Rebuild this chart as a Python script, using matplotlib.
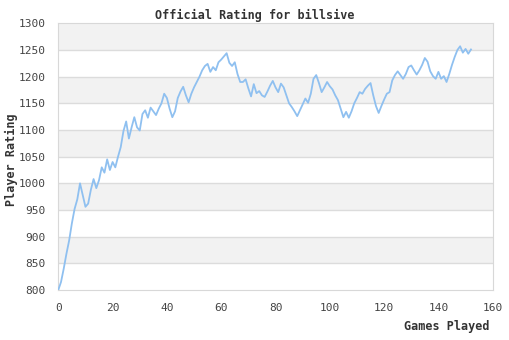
import numpy as np
import matplotlib
matplotlib.use("Agg")
import matplotlib.pyplot as plt

# Рейтинг по сыгранным партиям
rating = [
    800, 815, 840, 868, 893, 925, 952, 970, 1000, 978,
    956, 962, 988, 1008, 991, 1006, 1030, 1020, 1045, 1025,
    1040, 1030, 1050, 1068, 1098, 1116, 1084, 1105, 1124, 1105,
    1099, 1130, 1137, 1123, 1142, 1135, 1128, 1140, 1150, 1168,
    1160, 1140, 1124, 1135, 1160, 1172, 1181, 1165, 1152, 1168,
    1180, 1190, 1200, 1212, 1220, 1224, 1209, 1218, 1212, 1227,
    1232, 1238, 1244, 1226, 1220, 1227, 1205, 1190, 1190, 1195,
    1178, 1163, 1186, 1169, 1173, 1165, 1162, 1172, 1183, 1192,
    1180, 1171, 1187, 1180, 1165, 1150, 1143, 1135, 1126, 1137,
    1148, 1159, 1151, 1168, 1196, 1203, 1188, 1171, 1180, 1190,
    1182, 1176, 1165, 1156, 1140, 1124, 1134, 1123, 1135, 1150,
    1160, 1171, 1168, 1177, 1183, 1188, 1165, 1145, 1132, 1145,
    1157, 1168, 1171, 1193, 1203, 1210, 1203, 1196, 1205, 1218,
    1221, 1212, 1204, 1212, 1222, 1235, 1228, 1210, 1201, 1196,
    1209, 1196, 1201, 1190, 1205, 1222, 1237, 1250, 1257, 1245,
    1252, 1243, 1251,
]
games = np.arange(len(rating))

x_ticks = [0, 20, 40, 60, 80, 100, 120, 140, 160]
y_ticks = [800, 850, 900, 950, 1000, 1050, 1100, 1150, 1200, 1250, 1300]

mono = "DejaVu Sans Mono"
text_col = "#444444"

fig = plt.figure(figsize=(5.1, 3.4), dpi=100)
ax = fig.add_axes([0.1143, 0.147, 0.8518, 0.7844])

# Чередующиеся полосы фона
for i in range(len(y_ticks) - 1):
    if i % 2 == 1:
        ax.axhspan(y_ticks[i], y_ticks[i + 1], color="#f2f2f2", zorder=0, lw=0)
for y in y_ticks[1:-1]:
    ax.axhline(y, color="#dcdcdc", lw=1, zorder=1)

ax.plot(games, rating, color="#8fc0f0", lw=1.3, zorder=3)

ax.set_xlim(0, 160)
ax.set_ylim(800, 1300)
ax.set_xticks(x_ticks)
ax.set_yticks(y_ticks)
ax.tick_params(length=0, labelsize=8, colors=text_col, pad=9)
for lab in ax.get_xticklabels() + ax.get_yticklabels():
    lab.set_family(mono)
for s in ax.spines.values():
    s.set_color("#d8d8d8")

fig.text(0.5, 0.955, "Official Rating for billsive", ha="center", va="center",
         family=mono, weight="bold", size=8.5, color="#333333")
fig.text(0.96, 0.04, "Games Played", ha="right", va="center",
         family=mono, weight="bold", size=8.5, color="#333333")
fig.text(0.022, 0.53, "Player Rating", ha="center", va="center", rotation=90,
         family=mono, weight="bold", size=8.5, color="#333333")

fig.savefig("out.png", dpi=100)
